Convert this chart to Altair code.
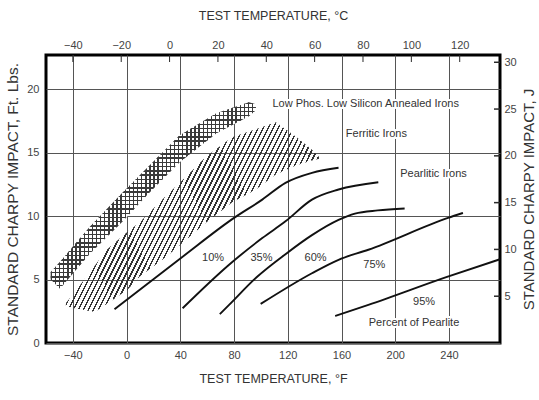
import altair as alt
import pandas as pd

# ---------------- data ----------------
F_MIN, F_MAX = -60, 278          # deg F range of the plot frame
E_MAX = 22.7                     # ft-lbs at the top of the frame
C_MIN, C_MAX = (F_MIN - 32) / 1.8, (F_MAX - 32) / 1.8
J_MAX = E_MAX * 1.35582

f_ticks = [-40, 0, 40, 80, 120, 160, 200, 240]
c_ticks = [-40, -20, 0, 20, 40, 60, 80, 100, 120]
e_ticks = [0, 5, 10, 15, 20]
j_ticks = [5, 10, 15, 20, 25, 30]

# percent-pearlite curves (deg F, ft-lbs)
p10_T = [-9, 40.5, 80, 101, 118.3, 138, 157.8]
p10_E = [2.66, 6.70, 9.86, 11.3, 12.62, 13.41, 13.81]
p35_T = [41.7, 76.3, 101, 118.3, 138, 157.8, 187.4]
p35_E = [2.74, 6.17, 8.27, 9.59, 11.3, 12.1, 12.67]
p60_T = [69.4, 76.3, 97, 118.3, 138, 157.8, 170, 187, 207]
p60_E = [2.27, 3.0, 5.2, 7.0, 8.5, 9.7, 10.2, 10.45, 10.6]
p75_T = [99.8, 138, 157.8, 180, 239.3, 250.4]
p75_E = [3.08, 5.5, 6.56, 7.35, 9.86, 10.25]
p95_T = [155.3, 180, 238, 278]
p95_E = [2.13, 3.0, 5.19, 6.6]

# low phos. low silicon annealed irons band
lp_T = [-56.5, -49.6, -27.4, -3.0, 17.0, 39.3, 66.7, 91.1, 96.3]
lp_hi = [5.6, 6.40, 9.17, 11.86, 13.99, 16.36, 18.10, 18.97, 18.81]
lp_lo = [5.0, 4.27, 7.04, 9.57, 11.86, 14.23, 16.52, 17.87, 18.34]

# ferritic irons band
fe_T = [-45.2, -40.7, -23.7, -14.8, 0.7, 9.6, 29.6, 44.4, 59.3, 78.5, 96.3, 111.1, 125.9, 137.8, 144.4]
fe_hi = [3.16, 3.72, 6.09, 7.35, 8.77, 9.49, 11.62, 13.12, 14.70, 16.21, 16.84, 17.39, 16.28, 15.26, 14.55]
fe_lo = [2.92, 2.77, 2.45, 3.08, 4.19, 5.22, 6.80, 8.14, 9.49, 11.07, 12.09, 13.28, 13.99, 14.39, 14.55]

labels = ["Low Phos. Low Silicon Annealed Irons", "Ferritic Irons", "Pearlitic Irons",
          "10%", "35%", "60%", "75%", "95%", "Percent of Pearlite"]
label_T = [178, 186, 228.5, 64.4, 100.4, 140.7, 184.4, 221.5, 214]
label_E = [18.8, 16.45, 13.3, 6.72, 6.72, 6.72, 6.17, 3.24, 1.58]

# ---------------- styling ----------------
W, H = 454, 288
FONT = "Liberation Sans, Arial, sans-serif"
INK = "#2a2a2a"

curves = pd.concat([
    pd.DataFrame({"T": t, "E": e, "series": s})
    for s, t, e in [("10%", p10_T, p10_E), ("35%", p35_T, p35_E), ("60%", p60_T, p60_E),
                    ("75%", p75_T, p75_E), ("95%", p95_T, p95_E)]
], ignore_index=True)
lp_df = pd.DataFrame({"T": lp_T, "hi": lp_hi, "lo": lp_lo})
fe_df = pd.DataFrame({"T": fe_T, "hi": fe_hi, "lo": fe_lo})
lab_df = pd.DataFrame({"T": label_T, "E": label_E, "label": labels})

x_scale = alt.Scale(domain=[F_MIN, F_MAX], nice=False, zero=False)
y_scale = alt.Scale(domain=[0, E_MAX], nice=False, zero=False)
x_axis = alt.Axis(orient="bottom", values=f_ticks, grid=True, ticks=False, domain=False,
                  labelPadding=6, labelFontSize=11, title="TEST TEMPERATURE, \u00b0F",
                  titleFontSize=12.5, titlePadding=12)
y_axis = alt.Axis(orient="left", values=e_ticks, grid=True, ticks=False, domain=False,
                  labelPadding=7, labelFontSize=11, title="STANDARD CHARPY IMPACT, Ft. Lbs.",
                  titleFontSize=15.5, titlePadding=6)


def X(field):
    return alt.X(f"{field}:Q", scale=x_scale, axis=x_axis)


def Y(field):
    return alt.Y(f"{field}:Q", scale=y_scale, axis=y_axis)


def stripes(n, duty, on, off, x1, y1, x2, y2):
    stops = []
    for i in range(n):
        a, b, c = i / n, (i + duty) / n, (i + 1) / n
        stops += [alt.GradientStop(offset=a, color=on), alt.GradientStop(offset=b, color=on),
                  alt.GradientStop(offset=b, color=off), alt.GradientStop(offset=c, color=off)]
    return alt.LinearGradient(gradient="linear", stops=stops, x1=x1, y1=y1, x2=x2, y2=y2)


band_a = alt.Chart(lp_df).mark_area(
    fill=stripes(50, 0.34, "#3a3a3a", "#ffffff", 0, 0, 1, 0), opacity=1
).encode(x=X("T"), y=Y("hi"), y2="lo")
band_b = alt.Chart(lp_df).mark_area(
    fill=stripes(44, 0.34, "#3a3a3a", "rgba(255,255,255,0)", 0, 0, 0, 1), opacity=1
).encode(x=X("T"), y=Y("hi"), y2="lo")
ferr = alt.Chart(fe_df).mark_area(
    fill=stripes(70, 0.34, "#333333", "rgba(255,255,255,0)", 0, 0, 1.205, 0.445), opacity=1
).encode(x=X("T"), y=Y("hi"), y2="lo")

lines = alt.Chart(curves).mark_line(color="#111111", strokeWidth=1.9, interpolate="monotone").encode(
    x=X("T"), y=Y("E"), detail="series:N"
)

halo = alt.Chart(lab_df).mark_text(font=FONT, fontSize=11, fill="white", stroke="white",
                                   strokeWidth=4, strokeJoin="round").encode(
    x=X("T"), y=Y("E"), text="label:N")
text = alt.Chart(lab_df).mark_text(font=FONT, fontSize=11, color="#333333").encode(
    x=X("T"), y=Y("E"), text="label:N")

main = alt.layer(band_a, band_b, ferr, lines, halo, text)

c_layer = alt.Chart(pd.DataFrame({"C": c_ticks})).mark_rule(color=INK, strokeWidth=1).encode(
    x=alt.X("C:Q", scale=alt.Scale(domain=[C_MIN, C_MAX], nice=False, zero=False),
            axis=alt.Axis(orient="top", values=c_ticks, grid=False, ticks=False, domain=False,
                          labelPadding=5, labelFontSize=11, title="TEST TEMPERATURE, \u00b0C",
                          titleFontSize=12.5, titlePadding=17)),
    y=alt.value(0), y2=alt.value(7),
)
j_layer = alt.Chart(pd.DataFrame({"J": j_ticks})).mark_rule(color=INK, strokeWidth=1.5).encode(
    y=alt.Y("J:Q", scale=alt.Scale(domain=[0, J_MAX], nice=False, zero=False),
            axis=alt.Axis(orient="right", values=j_ticks, grid=False, ticks=False, domain=False,
                          labelPadding=4, labelFontSize=11, title="STANDARD CHARPY IMPACT, J",
                          titleFontSize=15, titlePadding=5, titleAngle=270, titleBaseline="top")),
    x=alt.value(W - 6), x2=alt.value(W),
)

chart = alt.layer(main, c_layer, j_layer).resolve_scale(
    x="independent", y="independent"
).properties(
    width=W, height=H,
    autosize=alt.AutoSizeParams(type="none"),
    padding={"left": 46, "top": 55, "right": 39, "bottom": 57},
    background="white",
).configure_view(
    stroke="black", strokeWidth=3
).configure_axis(
    gridColor="#555555", gridWidth=1, gridOpacity=1,
    labelColor="#444444", titleColor="#333333", titleFontWeight="normal",
    labelFont=FONT, titleFont=FONT,
)

chart.save("out.html", embed_options={"renderer": "svg", "actions": False})
